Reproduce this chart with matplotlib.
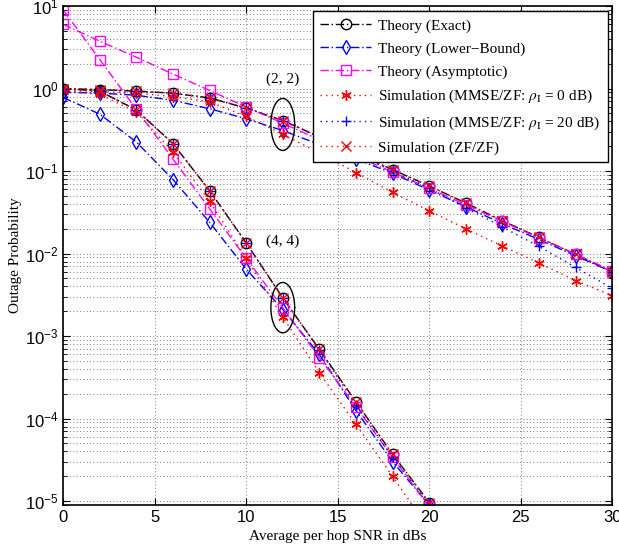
import numpy as np
import matplotlib.pyplot as plt
from matplotlib.ticker import LogLocator, NullFormatter, FixedLocator

# SNR grids
snr_22 = [0, 2, 4, 6, 8, 10, 12, 14, 16, 18, 20, 22, 24, 26, 28, 30]
snr_44 = [0, 2, 4, 6, 8, 10, 12, 14, 16, 18, 20]

# (2, 2) curves
exact_22 = [1.0, 0.97, 0.93, 0.88, 0.77, 0.58, 0.41, 0.26, 0.165, 0.104,
            0.066, 0.041, 0.025, 0.0157, 0.0098, 0.006]
lower_22 = [0.9, 0.88, 0.83, 0.72, 0.57, 0.43, 0.31, 0.21, 0.14, 0.094,
            0.059, 0.037, 0.023, 0.0148, 0.0094, 0.006]
asym_22 = [6.0, 3.75, 2.4, 1.5, 0.95, 0.6, 0.38, 0.24, 0.152, 0.097,
           0.062, 0.039, 0.0245, 0.0155, 0.0098, 0.0062]
sim0_22 = [0.95, 0.92, 0.88, 0.8, 0.69, 0.46, 0.28, 0.165, 0.096, 0.055,
           0.033, 0.02, 0.0123, 0.0077, 0.0047, 0.0031]
sim20_22 = [1.0, 0.97, 0.93, 0.88, 0.77, 0.58, 0.41, 0.26, 0.16, 0.1,
            0.062, 0.036, 0.021, 0.0122, 0.0068, 0.0038]
zf_22 = [1.0, 0.97, 0.93, 0.88, 0.77, 0.58, 0.41, 0.26, 0.165, 0.104,
         0.066, 0.041, 0.025, 0.0157, 0.0098, 0.006]

# (4, 4) curves
exact_44 = [1.0, 0.93, 0.55, 0.215, 0.058, 0.0135, 0.0029, 0.00069,
            0.00016, 3.7e-5, 9.6e-6]
lower_44 = [0.78, 0.49, 0.225, 0.079, 0.024, 0.0065, 0.0021, 0.0006,
            0.000125, 3.0e-5, 9.0e-6]
asym_44 = [9.0, 2.25, 0.56, 0.14, 0.035, 0.0088, 0.0022, 0.00055,
           0.00014, 3.4e-5, 8.6e-6]
sim0_44 = [0.95, 0.85, 0.52, 0.17, 0.043, 0.0088, 0.0017, 0.00036,
           8.5e-5, 2.0e-5, 4.5e-6]
sim20_44 = [1.0, 0.93, 0.55, 0.215, 0.058, 0.0135, 0.0029, 0.00068,
            0.000145, 3.4e-5, 9.2e-6]
zf_44 = [1.0, 0.93, 0.55, 0.215, 0.058, 0.0135, 0.0029, 0.00069,
         0.00016, 3.7e-5, 9.6e-6]

plt.rcParams['mathtext.fontset'] = 'stix'
serif = ['Liberation Serif', 'DejaVu Serif']
sans = ['Liberation Sans', 'DejaVu Sans']

fig = plt.figure(figsize=(6.19, 5.5), dpi=100)
ax = fig.add_axes([0.102, 0.082, 0.887, 0.907])

asterisk = (6, 2, 0)
ms = 7.5
styles = [
    # (data22, data44, color, marker, linestyle, label)
    (exact_22, exact_44, 'k', 'o', (0, (6, 2, 1, 2)), 'Theory (Exact)'),
    (lower_22, lower_44, '#0000ff', 'd', (0, (6, 2, 1, 2)), 'Theory (Lower\u2212Bound)'),
    (asym_22, asym_44, '#ff00ff', 's', (0, (6, 2, 1, 2)), 'Theory (Asymptotic)'),
    (sim0_22, sim0_44, '#ff0000', asterisk, (0, (1, 3)),
     r'Simulation (MMSE/ZF: $\rho_{\rm I}$ = 0 dB)'),
    (sim20_22, sim20_44, '#0000ff', '+', (0, (1, 3)),
     r'Simulation (MMSE/ZF: $\rho_{\rm I}$ = 20 dB)'),
    (zf_22, zf_44, '#ff0000', 'x', (0, (1, 3)), 'Simulation (ZF/ZF)'),
]

for d22, d44, c, m, ls, lab in styles:
    ax.plot(snr_22, d22, color=c, marker=m, linestyle=ls, lw=1.0, ms=ms,
            mfc='none', mec=c, mew=1.0, label=lab)
    ax.plot(snr_44, d44, color=c, marker=m, linestyle=ls, lw=1.0, ms=ms,
            mfc='none', mec=c, mew=1.0)

# ellipses marking the (2,2) and (4,4) groups
t = np.linspace(0, 2 * np.pi, 200)
for xc, ylo, yhi in [(12.0, -0.75, -0.12), (12.0, -2.96, -2.35)]:
    yc = (ylo + yhi) / 2
    ax.plot(xc + 0.65 * np.cos(t), 10 ** (yc + (yhi - ylo) / 2 * np.sin(t)),
            color='k', lw=1.0)
ax.text(12.0, 1.3, '(2, 2)', ha='center', va='center', fontsize=11, family=serif)
ax.text(12.0, 0.0142, '(4, 4)', ha='center', va='center', fontsize=11, family=serif)

ax.set_yscale('log')
ax.set_xlim(0, 30)
ax.set_ylim(9e-6, 10)
ax.xaxis.set_major_locator(FixedLocator([0, 5, 10, 15, 20, 25, 30]))
ax.yaxis.set_major_locator(LogLocator(base=10, numticks=10))
ax.yaxis.set_minor_locator(LogLocator(base=10, subs=np.arange(2, 10), numticks=20))
ax.yaxis.set_minor_formatter(NullFormatter())
ax.grid(True, which='major', color='0.3', linestyle=(0, (1, 3)), lw=0.6)
ax.grid(True, which='minor', axis='y', color='0.3', linestyle=(0, (1, 3)), lw=0.6)
ax.tick_params(which='both', direction='in', top=True, right=True)
ax.tick_params(which='major', length=5, labelsize=12)
ax.tick_params(which='minor', length=3)
for lbl in ax.get_xticklabels() + ax.get_yticklabels():
    lbl.set_family(sans)
for s in ax.spines.values():
    s.set_linewidth(1.2)

ax.set_xlabel('Average per hop SNR in dBs', fontsize=11, family=serif, labelpad=4)
ax.set_ylabel('Outage Probability', fontsize=11, family=serif, labelpad=2)

leg = ax.legend(loc='upper right', prop={'family': serif, 'size': 11},
                fancybox=False, framealpha=1, edgecolor='k', handlelength=3.3,
                handletextpad=0.5, borderpad=0.5, labelspacing=0.6,
                borderaxespad=0, bbox_to_anchor=(0.993, 0.99))
leg.get_frame().set_linewidth(1.0)

plt.savefig('out.png', dpi=100)
